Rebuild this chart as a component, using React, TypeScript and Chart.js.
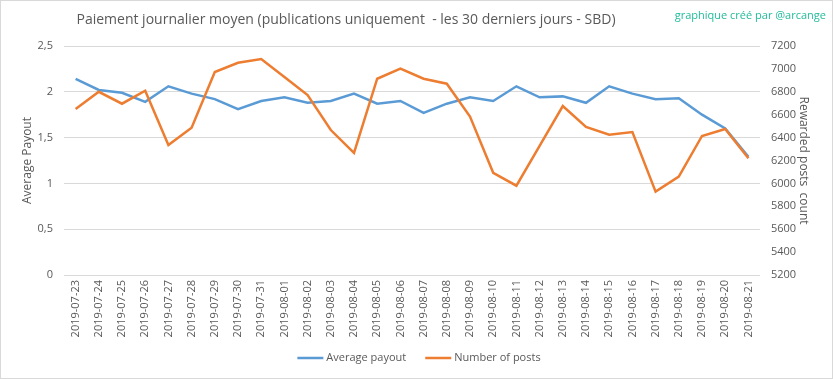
import React, { useEffect, useRef } from "react";
import { Chart, registerables } from "chart.js";

Chart.register(...registerables);

const dates = [
  "2019-07-23", "2019-07-24", "2019-07-25", "2019-07-26", "2019-07-27", "2019-07-28",
  "2019-07-29", "2019-07-30", "2019-07-31", "2019-08-01", "2019-08-02", "2019-08-03",
  "2019-08-04", "2019-08-05", "2019-08-06", "2019-08-07", "2019-08-08", "2019-08-09",
  "2019-08-10", "2019-08-11", "2019-08-12", "2019-08-13", "2019-08-14", "2019-08-15",
  "2019-08-16", "2019-08-17", "2019-08-18", "2019-08-19", "2019-08-20", "2019-08-21",
];

const avgPayout = [
  2.14, 2.02, 1.99, 1.89, 2.06, 1.98, 1.92, 1.81, 1.90, 1.94,
  1.88, 1.90, 1.98, 1.87, 1.90, 1.77, 1.87, 1.94, 1.90, 2.06,
  1.94, 1.95, 1.88, 2.06, 1.98, 1.92, 1.93, 1.75, 1.60, 1.29,
];

const postCount = [
  6650, 6800, 6696, 6810, 6335, 6487, 6973, 7054, 7086, 6929,
  6772, 6466, 6266, 6914, 7002, 6914, 6871, 6583, 6093, 5980,
  6327, 6676, 6493, 6425, 6449, 5928, 6059, 6414, 6475, 6219,
];

const seriesLabels = ["Average payout", "Number of posts"];
const titleText = "Paiement journalier moyen (publications uniquement  - les 30 derniers jours - SBD)";
const watermarkText = "graphique créé par @arcange";
const leftAxisTitle = "Average Payout";
const rightAxisTitle = "Rewarded posts  count";

const BLUE = "#5B9BD5";
const ORANGE = "#ED7D31";
const TEXT = "#595959";
const GRID = "#D9D9D9";
const TEAL = "#22BC9C";
const FONT = "'Open Sans', sans-serif";

const framePlugin = {
  id: "frame",
  beforeDraw(chart: any) {
    const { ctx, width, height } = chart;
    ctx.save();
    ctx.fillStyle = "#ffffff";
    ctx.fillRect(0, 0, width, height);
    ctx.strokeStyle = GRID;
    ctx.lineWidth = 1;
    ctx.strokeRect(0.5, 0.5, width - 1, height - 1);
    ctx.restore();
  },
  afterDraw(chart: any) {
    const { ctx } = chart;
    ctx.save();
    // title
    ctx.fillStyle = TEXT;
    ctx.font = `14px ${FONT}`;
    ctx.textAlign = "center";
    ctx.textBaseline = "middle";
    ctx.fillText(titleText, 346, 20);
    // watermark
    ctx.fillStyle = TEAL;
    ctx.font = `11px ${FONT}`;
    ctx.textAlign = "right";
    ctx.fillText(watermarkText, 826, 16);
    // legend
    ctx.font = `11px ${FONT}`;
    ctx.textAlign = "left";
    const colors = [BLUE, ORANGE];
    const sample = 26;
    const gap = 3;
    const between = 19;
    const widths = seriesLabels.map((l) => sample + gap + ctx.measureText(l).width);
    const total = widths.reduce((a, b) => a + b, 0) + between * (widths.length - 1);
    let x = 419 - total / 2;
    const y = 358;
    seriesLabels.forEach((l, i) => {
      ctx.strokeStyle = colors[i];
      ctx.lineWidth = 2.5;
      ctx.beginPath();
      ctx.moveTo(x, y);
      ctx.lineTo(x + sample, y);
      ctx.stroke();
      ctx.fillStyle = TEXT;
      ctx.fillText(l, x + sample + gap, y);
      x += widths[i] + between;
    });
    ctx.restore();
  },
};

export default function App() {
  const ref = useRef<HTMLCanvasElement>(null);
  useEffect(() => {
    document.body.style.margin = "0";
    const tickFont = { family: FONT, size: 11 };
    const chart = new Chart(ref.current as HTMLCanvasElement, {
      type: "line",
      data: {
        labels: dates,
        datasets: [
          {
            label: seriesLabels[0],
            data: avgPayout,
            borderColor: BLUE,
            backgroundColor: BLUE,
            borderWidth: 2.5,
            pointRadius: 0,
            tension: 0,
            yAxisID: "y",
            order: 2,
          },
          {
            label: seriesLabels[1],
            data: postCount,
            borderColor: ORANGE,
            backgroundColor: ORANGE,
            borderWidth: 2.5,
            pointRadius: 0,
            tension: 0,
            yAxisID: "y1",
            order: 1,
          },
        ],
      },
      options: {
        animation: false,
        responsive: false,
        layout: { padding: { top: 46, bottom: 34, left: 0, right: 0 } },
        plugins: { legend: { display: false }, tooltip: { enabled: false }, title: { display: false } },
        scales: {
          x: {
            offset: true,
            grid: { display: false, drawTicks: false },
            border: { display: false },
            ticks: {
              autoSkip: false,
              minRotation: 90,
              maxRotation: 90,
              color: TEXT,
              font: tickFont,
              padding: 5,
            },
            afterFit: (s: any) => {
              s.height = 70;
            },
          },
          y: {
            position: "left",
            min: 0,
            max: 2.5,
            ticks: {
              stepSize: 0.5,
              color: TEXT,
              font: tickFont,
              padding: 11,
              callback: (v: any) => String(v).replace(".", ","),
            },
            grid: { color: GRID, drawTicks: false },
            border: { display: false },
            title: {
              display: true,
              text: leftAxisTitle,
              color: TEXT,
              font: { family: FONT, size: 12 },
              padding: { top: 20, bottom: 0 },
            },
            afterFit: (s: any) => {
              s.width = 64;
            },
          },
          y1: {
            position: "right",
            min: 5200,
            max: 7200,
            ticks: {
              stepSize: 200,
              color: TEXT,
              font: tickFont,
              padding: 11,
              callback: (v: any) => String(v),
            },
            grid: { drawOnChartArea: false, drawTicks: false },
            border: { display: false },
            title: {
              display: true,
              text: rightAxisTitle,
              color: TEXT,
              font: { family: FONT, size: 12 },
              padding: { top: 22, bottom: 0 },
            },
            afterFit: (s: any) => {
              s.width = 73;
            },
          },
        },
      },
      plugins: [framePlugin],
    });
    return () => chart.destroy();
  }, []);
  return <canvas ref={ref} width={833} height={379} style={{ display: "block" }} />;
}
